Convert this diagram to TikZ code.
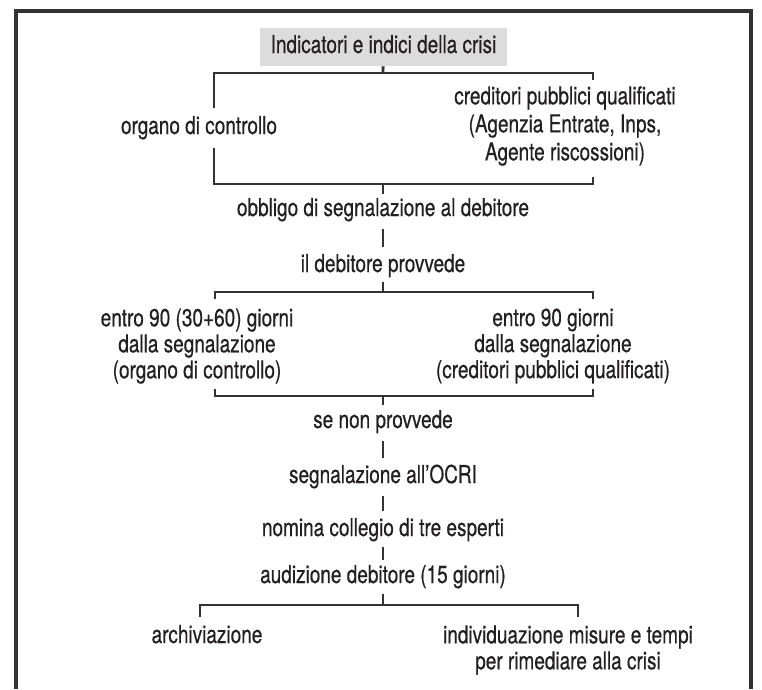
\documentclass[tikz,border=0pt]{standalone}
\usepackage{fontspec}
\setmainfont{TeX Gyre Heros}[FakeStretch=0.77,FakeBold=0.5]
\usetikzlibrary{calc}
\definecolor{ink}{HTML}{231F20}
\definecolor{boxgray}{HTML}{DCDCDC}
\definecolor{linegray}{HTML}{333333}
\begin{document}
\begin{tikzpicture}[x=0.75pt,y=-0.75pt,
  frame/.style={draw=linegray,line width=2.4pt},
  br/.style={draw=linegray,line width=1.1pt},
  tk/.style={draw=linegray,line width=2.1pt},
  lbl/.style={text=ink,font=\fontsize{18.5}{19.5}\selectfont,text height=13pt,text depth=4pt,minimum height=19.5pt,inner ysep=0pt,inner xsep=2pt},
  multi/.style={text=ink,align=center,font=\fontsize{18.5}{19.5}\selectfont,inner sep=0pt},
  multiwide/.style={multi,font=\fontsize{18.5}{21}\selectfont},
  titlebox/.style={lbl,fill=boxgray,minimum width=185.25pt,minimum height=28.5pt},
  t2t/.style={tk,shorten <=4.5pt,shorten >=4.5pt}
]
\useasboundingbox (0,0) rectangle (762,689);
% frame (open at the bottom)
\coordinate (fbl) at (16,689);
\coordinate (ftl) at (16,11);
\coordinate (ftr) at (751,11);
\coordinate (fbr) at (751,689);
\draw[frame] (fbl) -- (ftl) -- (ftr) -- (fbr);

% nodes
\node[titlebox] (title) at (383.5,47) {Indicatori e indici della crisi};
\node[lbl,minimum height=30pt] (org) at (199,128) {organo di controllo};
\node[multiwide] (cred) at (565,126) {creditori pubblici qualificati\\(Agenzia Entrate, Inps,\\Agente riscossioni)};
\node[lbl] (obl) at (383,210) {obbligo di segnalazione al debitore};
\node[lbl] (deb) at (383,266) {il debitore provvede};
\node[multi] (e1) at (197,346) {entro 90 (30+60) giorni\\dalla segnalazione\\(organo di controllo)};
\node[multi] (e2) at (553,346) {entro 90 giorni\\dalla segnalazione\\(creditori pubblici qualificati)};
\node[lbl] (senon) at (383,422) {se non provvede};
\node[lbl] (segn) at (383,477) {segnalazione all’OCRI};
\node[lbl] (nom) at (383,530) {nomina collegio di tre esperti};
\node[lbl] (aud) at (383,577) {audizione debitore (15 giorni)};
\node[lbl] (arch) at (207,637) {archiviazione};
\node[multi] (ind) at (568,650) {individuazione misure e tempi\\per rimediare alla crisi};

% bracket 1
\coordinate (b1tl) at (214,73);
\coordinate (b1tr) at (593,73);
\coordinate (b1trt) at (593,80);
\coordinate (b1bl) at (214,184);
\coordinate (b1br) at (593,184);
\coordinate (b1brt) at (593,177);
\coordinate (b1t) at (383,73);
\coordinate (b1b) at (383,184);
\draw[br] (b1trt) -- (b1tr) -- (b1tl) -- (b1tl |- org.north);
\draw[br] (b1tl |- org.south) -- (b1bl) -- (b1br) -- (b1brt);

% bracket 2
\coordinate (b2tl) at (215,292);
\coordinate (b2tlt) at (215,299);
\coordinate (b2tr) at (593,292);
\coordinate (b2trt) at (593,299);
\coordinate (b2bl) at (215,396);
\coordinate (b2blt) at (215,389);
\coordinate (b2br) at (593,396);
\coordinate (b2brt) at (593,389);
\coordinate (b2t) at (383,292);
\coordinate (b2b) at (383,396);
\draw[br] (b2tlt) -- (b2tl) -- (b2tr) -- (b2trt);
\draw[br] (b2blt) -- (b2bl) -- (b2br) -- (b2brt);

% bracket 3
\coordinate (b3l) at (200,605);
\coordinate (b3lt) at (200,617);
\coordinate (b3r) at (578,605);
\coordinate (b3rt) at (578,617);
\coordinate (b3t) at (383,605);
\draw[br] (b3lt) -- (b3l) -- (b3r) -- (b3rt);

% center ticks
\draw[tk] (title) -- (b1t);
\draw[tk,shorten >=2pt] (b1b) -- (obl);
\draw[t2t] (obl) -- (deb);
\draw[tk,shorten <=2pt] (deb) -- (b2t);
\draw[tk,shorten >=3pt] (b2b) -- (senon);
\draw[t2t] (senon) -- (segn);
\draw[t2t] (segn) -- (nom);
\draw[tk,shorten <=2.5pt,shorten >=2.5pt] (nom) -- (aud);
\draw[tk,shorten <=3pt] (aud) -- (b3t);
\end{tikzpicture}
\end{document}
